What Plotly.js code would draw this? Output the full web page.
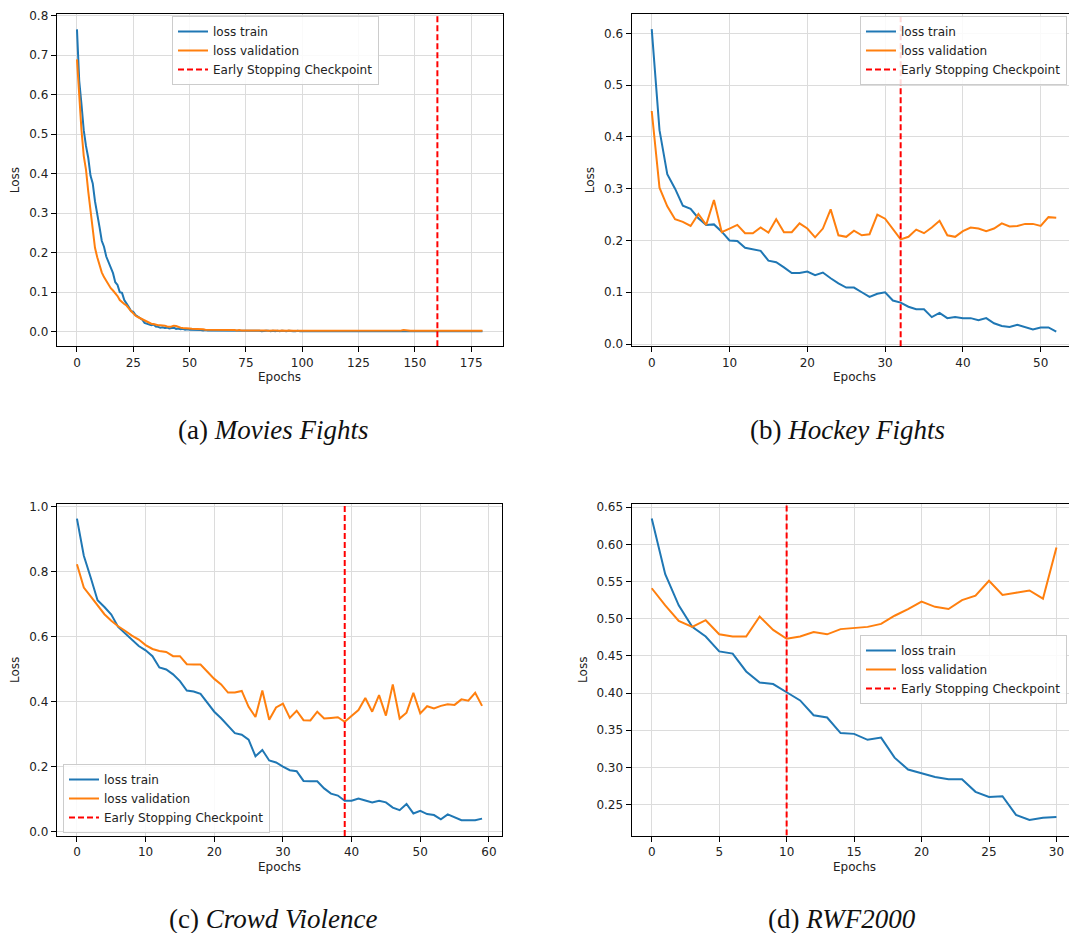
<!DOCTYPE html>
<html><head><meta charset="utf-8">
<script src="https://cdn.plot.ly/plotly-3.0.1.min.js"></script>
<style>html,body{margin:0;padding:0;background:#fff;overflow:hidden;width:1070px;height:933px}#chart{width:1070px;height:933px}</style>
</head><body><div id="chart"></div>
<script>
// ---------------- data ----------------
const seriesNames = ['loss train', 'loss validation', 'Early Stopping Checkpoint'];
const xTitle = 'Epochs';
const yTitle = 'Loss';
const captions = ['(a) <i>Movies Fights</i>', '(b) <i>Hockey Fights</i>', '(c) <i>Crowd Violence</i>', '(d) <i>RWF2000</i>'];

const trainA = [
0.765,0.635,0.575,0.510,0.470,0.440,0.395,0.375,0.330,0.300,
0.265,0.230,0.215,0.190,0.175,0.158,0.148,0.125,0.118,0.100,
0.098,0.080,0.072,0.062,0.052,0.050,0.042,0.038,0.032,0.030,
0.022,0.020,0.018,0.016,0.018,0.013,0.012,0.010,0.011,0.009,
0.010,0.008,0.009,0.010,0.007,0.008,0.006,0.007,0.005,0.006,
0.005,0.005,0.004,0.005,0.004,0.004,0.003,0.004,0.003,0.003,
0.003,0.003,0.002,0.003,0.003,0.002,0.003,0.002,0.002,0.003,
0.002,0.002,0.003,0.002,0.002,0.002,0.002,0.002,0.002,0.002,
0.002,0.002,0.001,0.002,0.002,0.002,0.001,0.002,0.001,0.002,
0.001,0.002,0.001,0.001,0.002,0.001,0.001,0.001,0.002,0.001,
0.001,0.001,0.001,0.001,0.001,0.002,0.001,0.001,0.001,0.001,
0.001,0.001,0.001,0.002,0.001,0.001,0.001,0.001,0.001,0.001,
0.001,0.001,0.001,0.001,0.001,0.001,0.001,0.001,0.002,0.001,
0.001,0.001,0.001,0.001,0.001,0.001,0.001,0.001,0.001,0.001,
0.001,0.001,0.001,0.001,0.001,0.001,0.002,0.001,0.001,0.001,
0.001,0.001,0.001,0.001,0.001,0.001,0.001,0.001,0.001,0.001,
0.001,0.001,0.001,0.001,0.001,0.001,0.001,0.001,0.001,0.001,
0.001,0.001,0.001,0.001,0.001,0.001,0.001,0.001,0.001,0.001,
0.001];
const valA = [
0.689,0.585,0.510,0.445,0.410,0.355,0.310,0.255,0.212,0.188,
0.168,0.150,0.138,0.128,0.118,0.110,0.104,0.098,0.090,0.080,
0.074,0.070,0.066,0.058,0.052,0.046,0.040,0.037,0.034,0.032,
0.028,0.026,0.022,0.020,0.019,0.017,0.016,0.016,0.016,0.015,
0.013,0.012,0.013,0.015,0.014,0.011,0.010,0.009,0.009,0.008,
0.008,0.007,0.007,0.007,0.006,0.006,0.006,0.005,0.005,0.005,
0.005,0.005,0.004,0.005,0.004,0.004,0.004,0.004,0.004,0.004,
0.004,0.003,0.004,0.003,0.003,0.003,0.003,0.004,0.003,0.003,
0.003,0.003,0.003,0.003,0.003,0.002,0.003,0.003,0.003,0.002,
0.002,0.003,0.002,0.002,0.003,0.002,0.002,0.002,0.002,0.002,
0.002,0.002,0.002,0.002,0.002,0.002,0.002,0.002,0.002,0.002,
0.002,0.002,0.002,0.002,0.002,0.002,0.002,0.002,0.002,0.002,
0.002,0.002,0.002,0.002,0.002,0.002,0.002,0.002,0.002,0.002,
0.002,0.002,0.002,0.002,0.002,0.002,0.002,0.002,0.002,0.002,
0.002,0.002,0.002,0.002,0.003,0.004,0.003,0.002,0.002,0.002,
0.002,0.002,0.002,0.002,0.002,0.002,0.002,0.002,0.002,0.002,
0.002,0.002,0.002,0.002,0.002,0.002,0.002,0.002,0.002,0.002,
0.002,0.002,0.002,0.002,0.002,0.002,0.002,0.002,0.002,0.002,
0.002];
const stopA = 160;

const trainB = [
0.608,0.413,0.328,0.300,0.267,0.261,0.243,0.230,0.231,0.217,
0.200,0.199,0.186,0.183,0.180,0.161,0.158,0.148,0.137,0.137,
0.140,0.133,0.138,0.127,0.117,0.109,0.109,0.100,0.091,0.097,
0.100,0.084,0.080,0.072,0.067,0.067,0.052,0.060,0.050,0.052,
0.050,0.050,0.046,0.050,0.040,0.035,0.033,0.037,0.033,0.028,
0.032,0.032,0.024];
const valB = [
0.450,0.302,0.266,0.241,0.236,0.228,0.251,0.230,0.278,0.216,
0.223,0.230,0.214,0.214,0.225,0.215,0.241,0.216,0.216,0.233,
0.223,0.206,0.223,0.260,0.210,0.207,0.219,0.210,0.212,0.250,
0.242,0.221,0.202,0.207,0.221,0.214,0.225,0.238,0.210,0.207,
0.218,0.225,0.223,0.218,0.223,0.233,0.227,0.228,0.232,0.232,
0.228,0.245,0.244];
const stopB = 32;

const trainC = [
0.962,0.848,0.781,0.711,0.690,0.667,0.629,0.609,0.588,0.570,
0.557,0.539,0.504,0.498,0.483,0.462,0.433,0.430,0.423,0.394,
0.368,0.348,0.325,0.302,0.297,0.282,0.231,0.250,0.218,0.212,
0.199,0.188,0.185,0.155,0.154,0.154,0.132,0.116,0.110,0.094,
0.094,0.101,0.095,0.089,0.094,0.089,0.073,0.065,0.084,0.055,
0.063,0.053,0.050,0.037,0.052,0.042,0.034,0.034,0.034,0.039];
const valC = [
0.822,0.750,0.723,0.696,0.668,0.648,0.631,0.617,0.602,0.590,
0.573,0.561,0.555,0.552,0.539,0.539,0.514,0.513,0.513,0.491,
0.469,0.452,0.427,0.427,0.432,0.383,0.352,0.433,0.343,0.381,
0.393,0.349,0.371,0.342,0.341,0.368,0.347,0.349,0.351,0.337,
0.354,0.373,0.410,0.368,0.419,0.356,0.452,0.347,0.365,0.426,
0.363,0.385,0.378,0.386,0.391,0.389,0.406,0.402,0.426,0.386];
const stopC = 39;

const trainD = [
0.635,0.560,0.518,0.489,0.476,0.456,0.453,0.429,0.414,0.412,
0.401,0.390,0.370,0.367,0.346,0.345,0.337,0.340,0.313,0.297,
0.292,0.287,0.284,0.284,0.267,0.260,0.261,0.236,0.229,0.232,
0.233];
const valD = [
0.541,0.518,0.497,0.489,0.498,0.479,0.476,0.476,0.503,0.485,
0.473,0.476,0.482,0.479,0.486,0.487,0.489,0.493,0.504,0.513,
0.523,0.516,0.513,0.525,0.531,0.551,0.532,0.535,0.538,0.527,
0.596];
const stopD = 10;

// ---------------- layout helpers ----------------
const W = 1070, H = 933;
const px = v => v / W;
const py = v => 1 - v / H;
const epochsOf = arr => arr.map((_, i) => i);

const C_TRAIN = '#1f77b4', C_VAL = '#ff7f0e', C_STOP = '#ff0000';
const tickFont = {family: 'DejaVu Sans, sans-serif', size: 12, color: '#222'};

const panels = [
  {train: trainA, val: valA, stop: stopA, left: 56.7, right: 502.7, top: 14.3, bottom: 346.3,
   xr: [-9, 189], yr: [-0.0372, 0.8032], xd: 25, yd: 0.1, yf: '.1f', rightSpine: true,
   leg: [172, 16], lossX: 15, cap: [272.5, 430]},
  {train: trainB, val: valB, stop: stopB, left: 631.5, right: 1069, top: 14.3, bottom: 346.3,
   xr: [-2.6, 53.64], yr: [-0.0044, 0.6367], xd: 10, yd: 0.1, yf: '.1f', rightSpine: false,
   leg: [860, 16], lossX: 590, cap: [847, 430]},
  {train: trainC, val: valC, stop: stopC, left: 56.7, right: 502.3, top: 504, bottom: 836,
   xr: [-2.95, 61.95], yr: [-0.0144, 1.0071], xd: 10, yd: 0.2, yf: '.1f', rightSpine: true,
   leg: [63, 764], lossX: 15, cap: [272.5, 919]},
  {train: trainD, val: valD, stop: stopD, left: 631.5, right: 1069, top: 504.3, bottom: 835.5,
   xr: [-1.5, 30.93], yr: [0.2082, 0.654], xd: 5, yd: 0.05, yf: '.2f', rightSpine: false,
   leg: [860, 635], lossX: 583, cap: [842, 919]}
];

const traces = [];
const layout = {
  width: W, height: H, margin: {l: 0, r: 0, t: 0, b: 0},
  paper_bgcolor: '#fff', plot_bgcolor: '#fff', showlegend: true,
  font: tickFont, annotations: []
};

panels.forEach((p, i) => {
  const n = i === 0 ? '' : String(i + 1);
  const xa = 'x' + n, ya = 'y' + n;
  const lg = 'legend' + n;
  traces.push({type: 'scatter', mode: 'lines', x: epochsOf(p.train), y: p.train, name: seriesNames[0],
    xaxis: xa, yaxis: ya, legend: lg, line: {color: C_TRAIN, width: 2}});
  traces.push({type: 'scatter', mode: 'lines', x: epochsOf(p.val), y: p.val, name: seriesNames[1],
    xaxis: xa, yaxis: ya, legend: lg, line: {color: C_VAL, width: 2}});
  traces.push({type: 'scatter', mode: 'lines', x: [p.stop, p.stop], y: p.yr, name: seriesNames[2],
    xaxis: xa, yaxis: ya, legend: lg, line: {color: C_STOP, width: 2, dash: '6px,3px'}});

  layout['xaxis' + n] = {
    domain: [px(p.left), px(p.right)], anchor: ya, range: p.xr, tick0: 0, dtick: p.xd,
    showgrid: true, gridcolor: '#dcdcdc', gridwidth: 1, zeroline: false,
    showline: true, linecolor: '#000', linewidth: 1, mirror: true,
    ticks: 'outside', ticklen: 5, tickwidth: 1, tickcolor: '#000', tickfont: tickFont
  };
  layout['yaxis' + n] = {
    domain: [py(p.bottom), py(p.top)], anchor: xa, range: p.yr, tick0: 0, dtick: p.yd, tickformat: p.yf,
    showgrid: true, gridcolor: '#dcdcdc', gridwidth: 1, zeroline: false,
    showline: true, linecolor: '#000', linewidth: 1, mirror: p.rightSpine,
    ticks: 'outside', ticklen: 5, tickwidth: 1, tickcolor: '#000', tickfont: tickFont
  };
  layout[lg] = {
    x: px(p.leg[0]), y: py(p.leg[1]), xanchor: 'left', yanchor: 'top',
    bgcolor: 'rgba(255,255,255,0.85)', bordercolor: '#cccccc', borderwidth: 1,
    font: {family: 'DejaVu Sans, sans-serif', size: 12, color: '#222'}, tracegroupgap: 0
  };
  const fullRight = p.rightSpine ? p.right : 1076.5;
  layout.annotations.push({xref: 'paper', yref: 'paper', x: px((p.left + fullRight) / 2), y: py(p.bottom + 31),
    text: xTitle, showarrow: false, xanchor: 'center', yanchor: 'middle', font: tickFont});
  layout.annotations.push({xref: 'paper', yref: 'paper', x: px(p.lossX), y: py((p.top + p.bottom) / 2),
    text: yTitle, showarrow: false, textangle: -90, xanchor: 'center', yanchor: 'middle', font: tickFont});
  layout.annotations.push({xref: 'paper', yref: 'paper', x: px(p.cap[0]), y: py(p.cap[1]),
    text: captions[i], showarrow: false, xanchor: 'center', yanchor: 'middle',
    font: {family: 'Liberation Serif, serif', size: 27, color: '#111'}});
});

Plotly.newPlot('chart', traces, layout, {displayModeBar: false, staticPlot: true});
</script>
</body></html>
